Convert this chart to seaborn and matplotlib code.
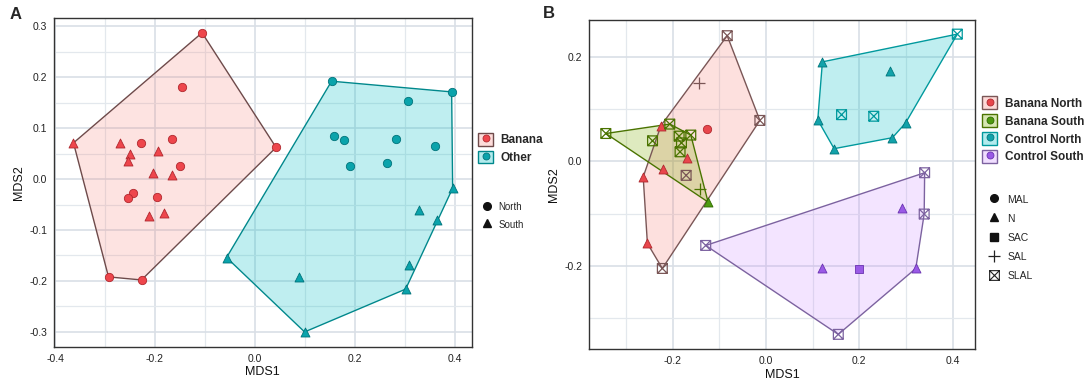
import numpy as np
import pandas as pd
import matplotlib
matplotlib.use("Agg")
import matplotlib.pyplot as plt
from matplotlib.path import Path
from matplotlib.markers import MarkerStyle
from matplotlib.lines import Line2D
from matplotlib.patches import Patch
from matplotlib.ticker import MultipleLocator
import seaborn as sns

# ---- panel A data ----
a_x = [-0.106, -0.146, 0.042, -0.229, -0.167, -0.151, -0.245, -0.254, -0.196, -0.293, -0.227,
       -0.363, -0.271, -0.251, -0.195, -0.255, -0.204, -0.167, -0.212, -0.183,
       0.153, 0.393, 0.305, 0.158, 0.177, 0.282, 0.359, 0.189, 0.264,
       0.395, 0.328, 0.364, -0.057, 0.087, 0.308, 0.301, 0.099]
a_y = [0.287, 0.181, 0.062, 0.071, 0.079, 0.025, -0.027, -0.037, -0.035, -0.192, -0.198,
       0.071, 0.071, 0.049, 0.055, 0.035, 0.012, 0.008, -0.072, -0.066,
       0.192, 0.171, 0.153, 0.084, 0.076, 0.078, 0.065, 0.025, 0.032,
       -0.018, -0.060, -0.081, -0.154, -0.192, -0.169, -0.216, -0.300]
a_group = ["Banana"] * 20 + ["Other"] * 17
a_region = ["North"] * 11 + ["South"] * 9 + ["North"] * 9 + ["South"] * 8

# ---- panel B data ----
b_x = [-0.083, -0.144, -0.013, -0.127, -0.225, -0.170, -0.220, -0.263, -0.171, -0.254, -0.222,
       -0.343, -0.206, -0.243, -0.186, -0.161, -0.181, -0.184, -0.124, -0.141,
       0.410, 0.121, 0.266, 0.111, 0.162, 0.231, 0.299, 0.271, 0.146,
       0.340, 0.292, 0.339, 0.121, 0.199, 0.321, 0.155, -0.129]
b_y = [0.240, 0.149, 0.078, 0.062, 0.068, 0.007, -0.014, -0.030, -0.027, -0.157, -0.205,
       0.053, 0.071, 0.039, 0.048, 0.050, 0.035, 0.018, -0.078, -0.053,
       0.243, 0.190, 0.173, 0.079, 0.089, 0.086, 0.073, 0.045, 0.024,
       -0.022, -0.090, -0.101, -0.205, -0.206, -0.205, -0.331, -0.161]
b_group = (["Banana North"] * 11 + ["Banana South"] * 9
           + ["Control North"] * 9 + ["Control South"] * 8)
b_type = ["SLAL", "SAL", "SLAL", "MAL", "N", "N", "N", "N", "SLAL", "N", "SLAL",
          "SLAL", "SLAL", "SLAL", "SLAL", "SLAL", "SLAL", "SLAL", "N", "SAL",
          "SLAL", "N", "N", "N", "SLAL", "SLAL", "N", "N", "N",
          "SLAL", "N", "SLAL", "N", "SAC", "N", "SLAL", "SLAL"]

df_a = pd.DataFrame({"MDS1": a_x, "MDS2": a_y, "group": a_group, "region": a_region})
df_b = pd.DataFrame({"MDS1": b_x, "MDS2": b_y, "group": b_group, "type": b_type})

# square with a cross (ggplot shape 7)
sq_cross = Path([(-1, -1), (1, -1), (1, 1), (-1, 1), (-1, -1),
                 (-1, -1), (1, 1), (-1, 1), (1, -1)],
                [Path.MOVETO, Path.LINETO, Path.LINETO, Path.LINETO, Path.CLOSEPOLY,
                 Path.MOVETO, Path.LINETO, Path.MOVETO, Path.LINETO])
slal_marker = MarkerStyle(sq_cross, fillstyle="none")

shape_map = {"North": "o", "South": "^", "MAL": "o", "N": "^", "SAC": "s",
             "SAL": "+", "SLAL": slal_marker}
size_map = {"o": 36, "^": 42, "s": 36, "+": 75}

fill_col = {"Banana": "#F8766D", "Other": "#00BFC4",
            "Banana North": "#F8766D", "Banana South": "#7CAE00",
            "Control North": "#00BFC4", "Control South": "#C77CFF"}
edge_col = {"Banana": "#6e4a4a", "Other": "#00888c",
            "Banana North": "#7a5656", "Banana South": "#4a7300",
            "Control North": "#00999d", "Control South": "#7c62a0"}
pt_col = {"Banana": "#ee464c", "Other": "#0aa3ab",
          "Banana North": "#e8464c", "Banana South": "#4f9a10",
          "Control North": "#12a2aa", "Control South": "#9a5ae6"}
pt_edge = {"Banana": "#b0282e", "Other": "#00737a",
           "Banana North": "#b0282e", "Banana South": "#2f6a00",
           "Control North": "#00767c", "Control South": "#6a32b0"}
hull_alpha = {"Banana": 0.2, "Other": 0.25, "Banana North": 0.22, "Banana South": 0.25,
              "Control North": 0.25, "Control South": 0.2}


def hull(pts):
    pts = sorted(set(pts))
    def cross(o, a, b):
        return (a[0] - o[0]) * (b[1] - o[1]) - (a[1] - o[1]) * (b[0] - o[0])
    lower, upper = [], []
    for p in pts:
        while len(lower) >= 2 and cross(lower[-2], lower[-1], p) <= 0:
            lower.pop()
        lower.append(p)
    for p in reversed(pts):
        while len(upper) >= 2 and cross(upper[-2], upper[-1], p) <= 0:
            upper.pop()
        upper.append(p)
    return np.array(lower[:-1] + upper[:-1])


def draw_panel(ax, df, shape_col, order):
    for g in order:
        sub = df[df.group == g]
        h = hull(list(zip(sub.MDS1, sub.MDS2)))
        ax.fill(h[:, 0], h[:, 1], facecolor=fill_col[g], alpha=hull_alpha[g], zorder=2)
        ax.fill(h[:, 0], h[:, 1], facecolor="none", edgecolor=edge_col[g], lw=1.0, zorder=3)
    for g in order:
        sub = df[df.group == g]
        for key, part in sub.groupby(shape_col):
            m = shape_map[key]
            if m is slal_marker:
                sns.scatterplot(data=part, x="MDS1", y="MDS2", marker=m, s=50,
                                color=edge_col[g], linewidth=0.9, ax=ax, zorder=4, legend=False)
            elif m == "+":
                sns.scatterplot(data=part, x="MDS1", y="MDS2", marker=m, s=size_map[m],
                                color=edge_col[g], linewidth=0.9, ax=ax, zorder=4, legend=False)
            else:
                sns.scatterplot(data=part, x="MDS1", y="MDS2", marker=m, s=size_map[m],
                                color=pt_col[g], edgecolor=pt_edge[g], linewidth=0.6,
                                ax=ax, zorder=4, legend=False)


def style_axes(ax, xmaj, ymaj):
    ax.xaxis.set_major_locator(MultipleLocator(xmaj))
    ax.xaxis.set_minor_locator(MultipleLocator(xmaj / 2))
    ax.yaxis.set_major_locator(MultipleLocator(ymaj))
    ax.yaxis.set_minor_locator(MultipleLocator(ymaj / 2))
    ax.grid(True, which="major", color="#d9dfe6", lw=1.2, zorder=0)
    ax.grid(True, which="minor", color="#e3e8ed", lw=0.9, zorder=0)
    ax.set_axisbelow(True)
    for sp in ax.spines.values():
        sp.set_color("#333333")
        sp.set_linewidth(1.0)
    ax.tick_params(which="major", length=3, width=0.8, color="#333333",
                   labelsize=7.5, labelcolor="#222222", pad=2)
    ax.tick_params(which="minor", length=0)
    ax.set_xlabel("MDS1", fontsize=9, color="#111111", labelpad=2)
    ax.set_ylabel("MDS2", fontsize=9, color="#111111", labelpad=3)


sns.set_style("white")
plt.rcParams["font.family"] = ["Liberation Sans", "DejaVu Sans"]

fig = plt.figure(figsize=(10.84, 3.89), dpi=100)
ax_a = fig.add_axes([0.0498, 0.1087, 0.3853, 0.845])
ax_b = fig.add_axes([0.5434, 0.1028, 0.3561, 0.8458])

draw_panel(ax_a, df_a, "region", ["Banana", "Other"])
style_axes(ax_a, 0.2, 0.1)
ax_a.set_xlim(-0.402, 0.433)
ax_a.set_ylim(-0.329, 0.316)
ax_a.set_xticks([-0.4, -0.2, 0.0, 0.2, 0.4])
ax_a.set_xticklabels(["-0.4", "-0.2", "0.0", "0.2", "0.4"])
ax_a.set_yticklabels([f"{v:.1f}" for v in ax_a.get_yticks()])

draw_panel(ax_b, df_b, "type", ["Banana North", "Banana South", "Control North", "Control South"])
style_axes(ax_b, 0.2, 0.2)
ax_b.set_xlim(-0.379, 0.448)
ax_b.set_ylim(-0.359, 0.270)
ax_b.set_xticks([-0.2, 0.0, 0.2, 0.4])
ax_b.set_xticklabels(["-0.2", "0.0", "0.2", "0.4"])
ax_b.set_yticks([-0.2, 0.0, 0.2])
ax_b.set_yticklabels(["-0.2", "0.0", "0.2"])

fig.text(0.009, 0.962, "A", fontsize=12, fontweight="bold", va="center")
fig.text(0.501, 0.966, "B", fontsize=12, fontweight="bold", va="center")


def color_handles(groups):
    return [(Patch(facecolor=fill_col[g], alpha=hull_alpha[g] + 0.05, edgecolor="none"),
             Patch(facecolor="none", edgecolor=edge_col[g], lw=1.0),
             Line2D([], [], ls="", marker="o", ms=5, mfc=pt_col[g], mec=pt_edge[g], mew=0.6))
            for g in groups]


def shape_handles(keys):
    hs = []
    for k in keys:
        m = shape_map[k]
        if m is slal_marker:
            hs.append(Line2D([], [], ls="", marker=m, ms=7, color="#222222", mew=0.8))
        elif m == "+":
            hs.append(Line2D([], [], ls="", marker=m, ms=9, color="#222222", mew=0.9))
        else:
            hs.append(Line2D([], [], ls="", marker=m, ms=5.5, color="#111111"))
    return hs


leg_kw = dict(frameon=False, loc="upper left", handlelength=1.3, handleheight=1.25,
              handletextpad=0.6, borderpad=0, borderaxespad=0)

groups_a = ["Banana", "Other"]
l1 = fig.legend(color_handles(groups_a), groups_a, bbox_to_anchor=(0.441, 0.658),
                labelspacing=0.38, prop={"size": 8.5, "weight": "bold"}, **leg_kw)
l2 = fig.legend(shape_handles(["North", "South"]), ["North", "South"],
                bbox_to_anchor=(0.443, 0.482), labelspacing=0.75, prop={"size": 7}, **leg_kw)

groups_b = ["Banana North", "Banana South", "Control North", "Control South"]
l3 = fig.legend(color_handles(groups_b), groups_b, bbox_to_anchor=(0.906, 0.752),
                labelspacing=0.4, prop={"size": 8.5, "weight": "bold"}, **leg_kw)
types_b = ["MAL", "N", "SAC", "SAL", "SLAL"]
l4 = fig.legend(shape_handles(types_b), types_b, bbox_to_anchor=(0.911, 0.502),
                labelspacing=0.78, prop={"size": 7.5}, **leg_kw)

fig.savefig("out.png", dpi=100)
